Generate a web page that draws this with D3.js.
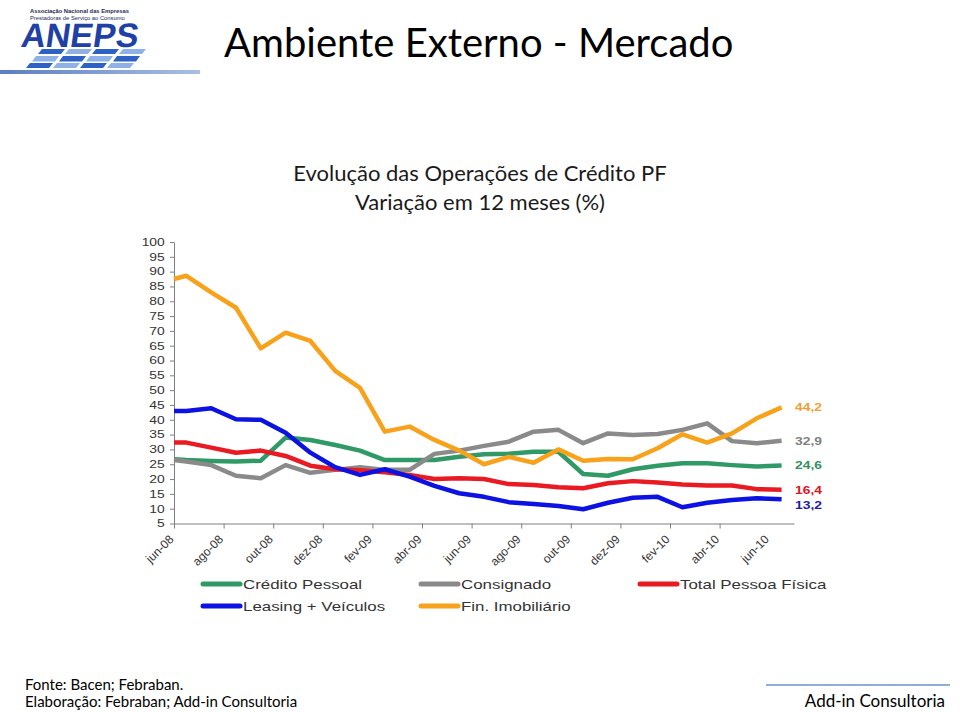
<!DOCTYPE html>
<html>
<head>
<meta charset="utf-8">
<script src="https://cdn.jsdelivr.net/npm/d3@7"></script>
<style>
  body { margin: 0; background: #fff; }
  svg { display: block; }
</style>
</head>
<body>
<svg width="960" height="712"></svg>
<script>
// month index of each point (0 = jun-08); the first value sits on the axis
var pointMonth = [-0.5, 0, 1, 2, 3, 4, 5, 6, 7, 8, 9, 10, 11, 12, 13, 14, 15, 16, 17, 18, 19, 20, 21, 22, 23, 24];

var tickLabels = ["jun-08", "ago-08", "out-08", "dez-08", "fev-09", "abr-09", "jun-09",
                  "ago-09", "out-09", "dez-09", "fev-10", "abr-10", "jun-10"];
var tickLabelMonth = [0, 2, 4, 6, 8, 10, 12, 14, 16, 18, 20, 22, 24];
var yTicks = [5, 10, 15, 20, 25, 30, 35, 40, 45, 50, 55, 60, 65, 70, 75, 80, 85, 90, 95, 100];

var creditoPessoal = [26.7, 26.4, 26.1, 25.9, 26.2, 34.0, 33.2, 31.5, 29.6, 26.4, 26.4, 26.4, 27.5,
                      28.4, 28.5, 29.2, 29.2, 21.7, 21.1, 23.3, 24.5, 25.3, 25.3, 24.7, 24.2, 24.6];
var consignado = [26.4, 25.9, 24.7, 21.1, 20.3, 24.7, 22.1, 23.1, 24.0, 23.1, 23.1, 28.5, 29.6,
                  31.2, 32.6, 36.0, 36.6, 32.1, 35.4, 34.9, 35.2, 36.6, 38.8, 32.8, 32.1, 32.9];
var totalPF = [32.3, 32.3, 30.6, 28.9, 29.6, 27.8, 24.5, 23.3, 23.0, 22.3, 21.4, 20.0, 20.3,
               20.0, 18.3, 18.0, 17.2, 16.9, 18.6, 19.3, 18.8, 18.2, 17.8, 17.8, 16.6, 16.4];
var leasingVeiculos = [43.0, 43.0, 43.9, 40.2, 40.0, 35.6, 28.9, 24.0, 21.4, 23.3, 20.8, 17.7, 15.2,
                       14.0, 12.2, 11.6, 10.9, 9.8, 12.0, 13.7, 14.0, 10.5, 12.0, 12.9, 13.5, 13.2];
var finImobiliario = [87.5, 88.6, 83.0, 77.8, 64.1, 69.4, 66.6, 56.5, 50.8, 36.0, 37.7, 33.2, 29.6,
                      25.0, 27.5, 25.5, 30.0, 26.2, 26.8, 26.7, 30.4, 35.1, 32.3, 35.4, 40.5, 44.2];

var seriesNames = ["Crédito Pessoal", "Consignado", "Total Pessoa Física", "Leasing + Veículos", "Fin. Imobiliário"];
var seriesValues = [creditoPessoal, consignado, totalPF, leasingVeiculos, finImobiliario];
var seriesColors = ["#2f9a66", "#8a8a8a", "#ea1a22", "#0c12e2", "#f8a21c"];
var labelColors = ["#34905f", "#7f7f7f", "#e0141c", "#1c1ca8", "#f0a030"];
var endLabels = ["24,6", "32,9", "16,4", "13,2", "44,2"];
var endLabelNudge = [0, 0, 0, 6, 0];

var svg = d3.select("svg");
var stretch = 1.32; // the chart text in the source is widened

var x = d3.scaleLinear().domain([-0.5, 24.5]).range([174, 794]);
var y = d3.scaleLinear().domain([5, 100]).range([523.5, 242]);

function drawLogo() {
	var g = svg.append("g");
	var grad = svg.append("defs").append("linearGradient").attr("id", "band");
	grad.append("stop").attr("offset", "0%").attr("stop-color", "#5a7fc2");
	grad.append("stop").attr("offset", "100%").attr("stop-color", "#a9bfe4");
	g.append("rect").attr("x", 0).attr("y", 70).attr("width", 200).attr("height", 4).attr("fill", "url(#band)");

	g.append("text").attr("x", 30).attr("y", 12.5).attr("font-family", "Liberation Sans")
		.attr("font-size", 5.8).attr("font-weight", "bold").attr("fill", "#222a55")
		.text("Associação Nacional das Empresas");
	g.append("text").attr("x", 30).attr("y", 19.5).attr("font-family", "Liberation Sans")
		.attr("font-size", 5.8).attr("fill", "#222a55")
		.text("Prestadoras de Serviço ao Consumo");
	g.append("text").attr("transform", "translate(20,47) skewX(-8)").attr("font-family", "Liberation Sans")
		.attr("font-size", 34).attr("font-weight", "bold").attr("fill", "#1f40a4")
		.text("ANEPS");

	// tiled floor under the name
	var rows = [[49, 38, 5], [56, 32, 5.5], [63, 26, 5]];
	rows.forEach(function(r, i) {
		[0, 1, 2, 3].forEach(function(c) {
			var x0 = r[1] + c * 27;
			var w = 23;
			g.append("path")
				.attr("d", "M" + (x0 + 4) + "," + r[0] + "h" + w + "l-4," + r[2] + "h-" + w + "z")
				.attr("fill", (i + c) % 2 === 0 ? "#2d62c4" : "#8eb2e6");
		});
	});
}

function drawTitles() {
	svg.append("text").attr("x", 224).attr("y", 57)
		.attr("font-family", "Lato").attr("font-size", 40).attr("fill", "#000")
		.text("Ambiente Externo - Mercado");

	svg.append("text").attr("x", 480).attr("y", 181).attr("text-anchor", "middle")
		.attr("font-family", "Lato").attr("font-size", 22).attr("fill", "#1a1a1a")
		.text("Evolução das Operações de Crédito PF");
	svg.append("text").attr("x", 480).attr("y", 210).attr("text-anchor", "middle")
		.attr("font-family", "Lato").attr("font-size", 22).attr("fill", "#1a1a1a")
		.text("Variação em 12 meses (%)");
}

function drawAxes() {
	var yAxis = svg.append("g")
		.attr("transform", "translate(174,0)")
		.call(d3.axisLeft(y).tickValues(yTicks).tickSize(4).tickPadding(3).tickSizeOuter(0));
	yAxis.select(".domain").attr("stroke", "#808080");
	yAxis.selectAll(".tick line").attr("stroke", "#808080");
	yAxis.selectAll(".tick text")
		.attr("font-family", "Liberation Sans").attr("font-size", 10.5).attr("fill", "#333")
		.attr("transform", "scale(" + stretch + ",1)");

	var xTicks = tickLabelMonth.slice(0, 12).map(function(m) { return m - 0.5; });
	var xAxis = svg.append("g")
		.attr("transform", "translate(0," + y(5) + ")")
		.call(d3.axisBottom(x).tickValues(xTicks).tickFormat("").tickSize(5).tickSizeOuter(0));
	xAxis.select(".domain").attr("stroke", "#808080");
	xAxis.selectAll(".tick line").attr("stroke", "#808080");

	svg.append("g").selectAll("text")
		.data(tickLabels)
		.enter()
		.append("text")
		.attr("transform", function(d, i) {
			return "translate(" + (x(tickLabelMonth[i]) - 12) + ",540) rotate(-45)";
		})
		.attr("text-anchor", "end")
		.attr("font-family", "Liberation Sans").attr("font-size", 12).attr("fill", "#333")
		.text(function(d) { return d; });
}

function drawLines() {
	var line = d3.line()
		.x(function(d, i) { return x(pointMonth[i]); })
		.y(function(d) { return y(d); });

	svg.append("g").selectAll("path")
		.data(seriesValues)
		.enter()
		.append("path")
		.attr("d", line)
		.attr("fill", "none")
		.attr("stroke", function(d, i) { return seriesColors[i]; })
		.attr("stroke-width", 4.5)
		.attr("stroke-linejoin", "round");

	svg.append("g").selectAll("text")
		.data(seriesValues)
		.enter()
		.append("text")
		.attr("transform", function(d, i) {
			return "translate(795," + (y(d[d.length - 1]) + 4 + endLabelNudge[i]) + ") scale(" + stretch + ",1)";
		})
		.attr("font-family", "Liberation Sans").attr("font-size", 10.5).attr("font-weight", "bold")
		.attr("fill", function(d, i) { return labelColors[i]; })
		.text(function(d, i) { return endLabels[i]; });
}

function drawLegend() {
	var cols = [200, 418, 637];
	var rows = [584, 606];
	var item = svg.append("g").selectAll("g")
		.data(seriesNames)
		.enter()
		.append("g")
		.attr("transform", function(d, i) {
			return "translate(" + cols[i % 3] + "," + rows[Math.floor(i / 3)] + ")";
		});
	item.append("line")
		.attr("x1", 3).attr("x2", 40).attr("y1", 0).attr("y2", 0)
		.attr("stroke", function(d, i) { return seriesColors[i]; })
		.attr("stroke-width", 5).attr("stroke-linecap", "round");
	item.append("text")
		.attr("transform", "translate(43,4.5) scale(" + stretch + ",1)")
		.attr("font-family", "Liberation Sans").attr("font-size", 12.8).attr("fill", "#333")
		.text(function(d) { return d; });
}

function drawFooter() {
	var f = svg.append("g").attr("font-family", "Lato").attr("font-size", 15).attr("fill", "#000");
	f.append("text").attr("x", 25).attr("y", 690).text("Fonte: Bacen; Febraban.");
	f.append("text").attr("x", 25).attr("y", 707).text("Elaboração: Febraban; Add-in Consultoria");
	f.append("text").attr("x", 945).attr("y", 707).attr("text-anchor", "end")
		.attr("font-size", 17).text("Add-in Consultoria");
	svg.append("line").attr("x1", 766).attr("x2", 950).attr("y1", 685).attr("y2", 685)
		.attr("stroke", "#8faed6").attr("stroke-width", 2);
}

drawLogo();
drawTitles();
drawAxes();
drawLines();
drawLegend();
drawFooter();
</script>
</body>
</html>
